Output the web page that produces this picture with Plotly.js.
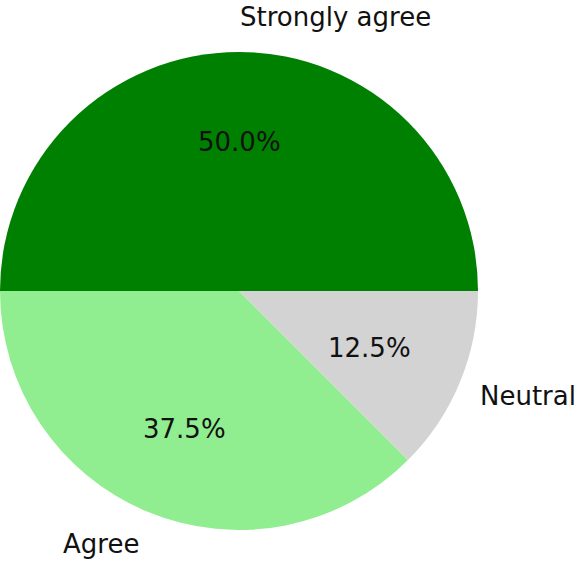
<!DOCTYPE html>
<html>
<head>
<meta charset="utf-8">
<script src="https://cdn.plot.ly/plotly-3.0.1.min.js"></script>
<style>html,body{margin:0;padding:0;background:#fff;}#chart{width:578px;height:561px;}</style>
</head>
<body>
<div id="chart"></div>
<script>
// Data
var labels = ['Strongly agree', 'Agree', 'Neutral'];
var values = [50, 37.5, 12.5];
var colors = ['#008000', '#90EE90', '#D3D3D3'];

var W = 578, H = 561;
var total = values.reduce(function(a, b){ return a + b; }, 0);

// label annotations (matplotlib-like: labels at 1.1 r, percents at 0.6 r)
var annotations = [];
var start = 0;
var font = {family: 'DejaVu Sans', size: 26, color: '#111111'};
for (var i = 0; i < values.length; i++) {
  var frac = values[i] / total;
  var mid = (start + frac / 2) * 2 * Math.PI;
  start += frac;
  var cx = Math.cos(mid), cy = Math.sin(mid);
  annotations.push({
    xref: 'x', yref: 'y', x: 1.1 * cx, y: 1.1 * cy,
    text: labels[i], showarrow: false,
    xanchor: cx > 0 ? 'left' : 'right', yanchor: 'middle',
    font: font, borderpad: 0
  });
  annotations.push({
    xref: 'x', yref: 'y', x: 0.6 * cx, y: 0.6 * cy,
    text: (frac * 100).toFixed(1) + '%', showarrow: false,
    xanchor: 'center', yanchor: 'middle',
    font: font, borderpad: 0
  });
}

var pie = {
  type: 'pie',
  labels: labels,
  values: values,
  marker: {colors: colors, line: {width: 0}},
  sort: false,
  direction: 'counterclockwise',
  rotation: 270,
  textinfo: 'none',
  hoverinfo: 'skip',
  showlegend: false,
  domain: {x: [0, 478 / W], y: [31 / H, 509 / H]}
};

var layout = {
  width: W, height: H,
  margin: {l: 0, r: 0, t: 0, b: 0},
  paper_bgcolor: '#ffffff',
  plot_bgcolor: 'rgba(0,0,0,0)',
  showlegend: false,
  xaxis: {visible: false, range: [-239 / 236, 339 / 236], domain: [0, 1], fixedrange: true},
  yaxis: {visible: false, range: [-270 / 249, 291 / 249], domain: [0, 1], fixedrange: true},
  annotations: annotations
};

Plotly.newPlot('chart', [pie], layout, {displayModeBar: false, staticPlot: true});
</script>
</body>
</html>
